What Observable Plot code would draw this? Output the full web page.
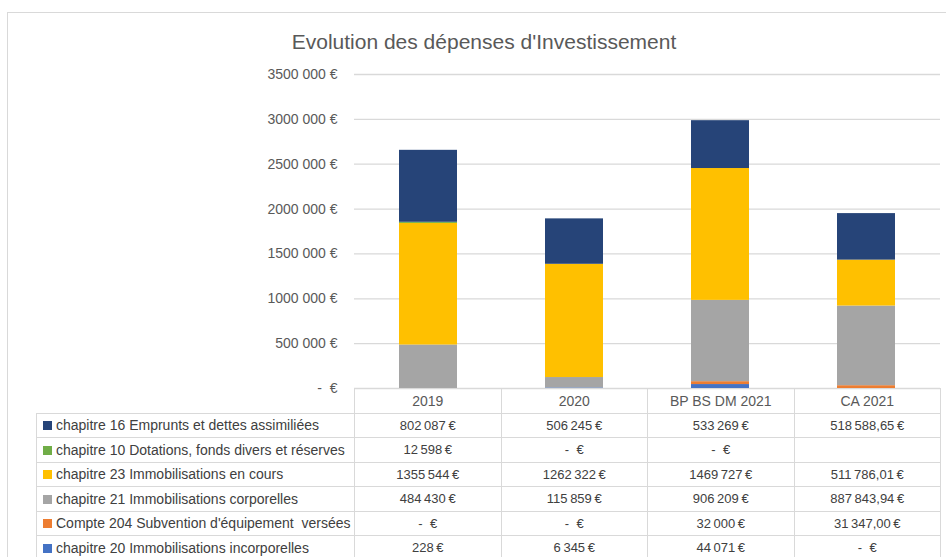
<!DOCTYPE html>
<html><head><meta charset="utf-8">
<script src="https://cdn.jsdelivr.net/npm/d3@7"></script>
<script src="https://cdn.jsdelivr.net/npm/@observablehq/plot@0.6"></script>
<style>
body{margin:0;background:#fff;font-family:"Liberation Sans",Arial,sans-serif;}
#wrap{position:relative;width:946px;height:557px;overflow:hidden;background:#fff;}
#frame{position:absolute;left:7px;top:12px;width:980px;height:620px;border:1px solid #d9d9d9;box-sizing:border-box;}
#title{position:absolute;top:30px;left:0;width:968px;text-align:center;font-size:21px;line-height:24px;color:#595959;}
#chart{position:absolute;left:0;top:60px;}
#tbl{position:absolute;left:36px;top:388px;border-collapse:collapse;table-layout:fixed;width:904px;color:#404040;}
#tbl td{border:1px solid #d9d9d9;padding:0;height:23.5px;text-align:center;font-size:13px;white-space:pre;overflow:hidden;}
#tbl td.lab{text-align:left;font-size:14px;padding-left:6px;}
#tbl td.blank{border-top:none;border-left:none;}
#tbl td.hd{font-size:14px;color:#595959;}
.sw{display:inline-block;width:9px;height:9px;margin-right:4px;vertical-align:-0px;}
</style></head>
<body>
<div id="wrap">
  <div id="frame"></div>
  <div id="title">Evolution des dépenses d'Investissement</div>
  <div id="chart"></div>
  <table id="tbl"></table>
</div>
<script>
const categories = ["2019", "2020", "BP BS DM 2021", "CA 2021"];
// table order (top to bottom)
const seriesNames = [
  "chapitre 16 Emprunts et dettes assimiliées",
  "chapitre 10 Dotations, fonds divers et réserves",
  "chapitre 23 Immobilisations en cours",
  "chapitre 21 Immobilisations corporelles",
  "Compte 204 Subvention d'équipement  versées",
  "chapitre 20 Immobilisations incorporelles"
];
const seriesColors = ["#264478", "#70AD47", "#FFC000", "#A5A5A5", "#ED7D31", "#4472C4"];
const ch16 = [802087, 506245, 533269, 518588.65];
const ch10 = [12598, 0, 0, null];
const ch23 = [1355544, 1262322, 1469727, 511786.01];
const ch21 = [484430, 115859, 906209, 887843.94];
const c204 = [0, 0, 32000, 31347.00];
const ch20 = [228, 6345, 44071, 0];
const seriesValues = [ch16, ch10, ch23, ch21, c204, ch20];
const decimalColumn = [false, false, false, true];
const yTicks = [0, 500000, 1000000, 1500000, 2000000, 2500000, 3000000, 3500000];
const yTickLabels = ["-\u00a0\u00a0€", "500 000 €", "1000 000 €", "1500 000 €", "2000 000 €", "2500 000 €", "3000 000 €", "3500 000 €"];

// stacked data, bottom to top = reverse of table order
const data = [];
for (let s = seriesNames.length - 1; s >= 0; s--) {
  categories.forEach((c, i) => {
    const v = seriesValues[s][i];
    if (v) data.push({cat: c, series: seriesNames[s], value: v});
  });
}

const chart = Plot.plot({
  width: 946, height: 342,
  marginTop: 14, marginBottom: 14, marginLeft: 354, marginRight: 6,
  style: {fontFamily: "'Liberation Sans', Arial, sans-serif", fontSize: "14px", color: "#595959", background: "transparent"},
  x: {domain: categories, paddingInner: 0.6, paddingOuter: 0.3, axis: null},
  y: {domain: [0, 3500000], axis: null},
  color: {domain: seriesNames, range: seriesColors},
  marks: [
    Plot.ruleY(yTicks, {stroke: "#d9d9d9", strokeWidth: 1.3}),
    Plot.barY(data, {x: "cat", y: "value", fill: "series"}),
    Plot.axisY(yTicks, {tickSize: 0, tickPadding: 17, fontSize: 14, fill: "#595959", label: null,
      tickFormat: d => yTickLabels[yTicks.indexOf(d)]})
  ]
});
document.getElementById("chart").appendChild(chart);

function fmt(v, dec) {
  if (v === null || v === undefined) return "";
  if (v === 0) return "-\u00a0\u00a0€";
  const ip = Math.floor(v);
  const s = String(ip);
  let out = s.length > 3 ? s.slice(0, -3) + "\u2009" + s.slice(-3) : s;
  if (dec) out += "," + v.toFixed(2).split(".")[1];
  return out + "\u2009€";
}

const tbl = document.getElementById("tbl");
const cg = document.createElement("colgroup");
[318, 146.5, 146.5, 146.5, 146.5].forEach(w => {
  const col = document.createElement("col"); col.style.width = w + "px"; cg.appendChild(col);
});
tbl.appendChild(cg);
const hr = document.createElement("tr");
const b = document.createElement("td"); b.className = "blank"; hr.appendChild(b);
categories.forEach(c => { const td = document.createElement("td"); td.className = "hd"; td.textContent = c; hr.appendChild(td); });
tbl.appendChild(hr);
seriesNames.forEach((name, s) => {
  const tr = document.createElement("tr");
  const lab = document.createElement("td"); lab.className = "lab";
  const sw = document.createElement("span"); sw.className = "sw"; sw.style.background = seriesColors[s];
  lab.appendChild(sw); lab.appendChild(document.createTextNode(name));
  tr.appendChild(lab);
  categories.forEach((c, i) => {
    const td = document.createElement("td");
    td.textContent = fmt(seriesValues[s][i], decimalColumn[i]);
    tr.appendChild(td);
  });
  tbl.appendChild(tr);
});
</script>
</body></html>
